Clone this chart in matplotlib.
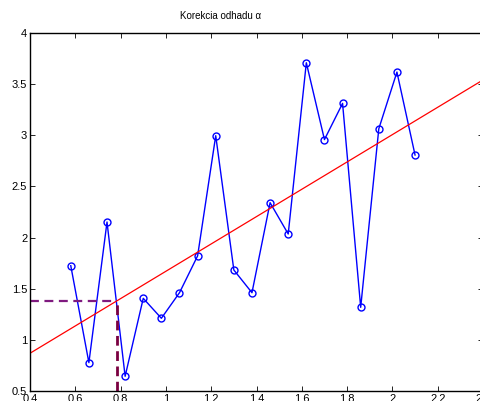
import matplotlib
matplotlib.use("Agg")
import matplotlib.pyplot as plt

# namerane hodnoty
x_vals = [0.58, 0.66, 0.74, 0.82, 0.90, 0.98, 1.06, 1.14, 1.22, 1.30,
          1.38, 1.46, 1.54, 1.62, 1.70, 1.78, 1.86, 1.94, 2.02, 2.10]
y_vals = [1.725, 0.777, 2.152, 0.644, 1.406, 1.211, 1.461, 1.821, 2.996, 1.683,
          1.461, 2.341, 2.035, 3.709, 2.958, 3.312, 1.318, 3.064, 3.618, 2.807]

# regresna priamka
fit_x = [0.4, 2.4]
fit_y = [0.869, 3.541]

# odhad alfa
alpha_x = 0.783
alpha_y = 1.383

x_ticks = [0.4, 0.6, 0.8, 1, 1.2, 1.4, 1.6, 1.8, 2, 2.2, 2.4]
y_ticks = [0.5, 1, 1.5, 2, 2.5, 3, 3.5, 4]

plt.rcParams['font.family'] = ['Liberation Sans', 'DejaVu Sans']

fig = plt.figure(figsize=(4.8, 4.01), dpi=100)
ax = fig.add_axes([30 / 480, 10 / 401, 453 / 480, 358 / 401])

ax.plot(x_vals, y_vals, '-o', color='blue', lw=1.0, ms=5,
        mfc='none', mec='blue', mew=1.0)
ax.plot(fit_x, fit_y, color='red', lw=0.9)
ax.plot([0.4, alpha_x], [alpha_y, alpha_y], '--', color='#7f1a7f',
        lw=1.6, dashes=(4, 2.5))
ax.plot([alpha_x, alpha_x], [0.5, alpha_y], '--', color='#7a0040',
        lw=2.0, dashes=(3.5, 2))

ax.set_xlim(0.4, 2.4)
ax.set_ylim(0.5, 4)
ax.set_xticks(x_ticks)
ax.set_yticks(y_ticks)
ax.set_xticklabels([f'{t:g}' for t in x_ticks])
ax.set_yticklabels([f'{t:g}' for t in y_ticks])
ax.tick_params(direction='in', length=3.5, width=0.6, labelsize=8, pad=2,
               top=True, right=True)
for s in ax.spines.values():
    s.set_linewidth(1.0)

fig.text(221 / 480, 1 - 16 / 401, u'Korekcia odhadu \u03b1',
         ha='center', va='center', fontsize=7)

fig.savefig('out.png', dpi=100)
